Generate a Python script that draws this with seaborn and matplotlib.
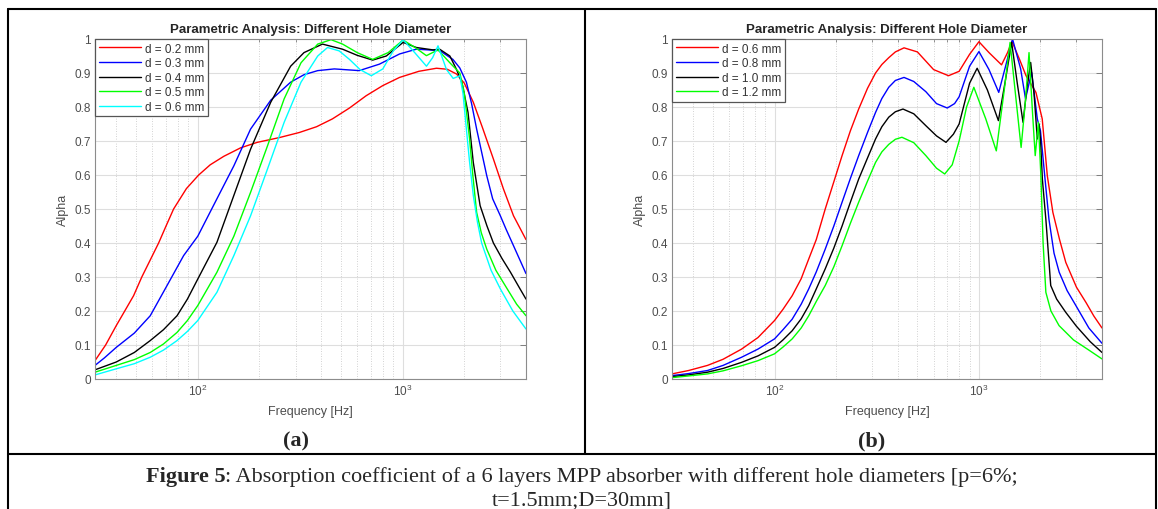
import matplotlib
matplotlib.use("Agg")
import numpy as np
import pandas as pd
import matplotlib.pyplot as plt
from matplotlib.lines import Line2D
from matplotlib.ticker import LogLocator, NullFormatter, MultipleLocator, FuncFormatter
import seaborn as sns

# --- panel (a): d = 0.2 ... 0.6 mm ---
freq_a_02 = [31.5, 35.5, 40, 44, 48.6, 53.3, 58.6, 64.4, 70, 76.2, 88, 101, 115, 134, 162, 195, 250,
             313, 380, 454, 550, 663, 800, 966, 1200, 1462, 1650, 1833, 2000, 2212, 2450, 2773,
             3100, 3476, 4000]
alpha_a_02 = [0.054, 0.1, 0.157, 0.2, 0.245, 0.30, 0.35, 0.40, 0.45, 0.50, 0.56, 0.60, 0.63, 0.655,
              0.68, 0.696, 0.71, 0.725, 0.742, 0.765, 0.797, 0.833, 0.863, 0.887, 0.905, 0.914,
              0.911, 0.897, 0.87, 0.814, 0.74, 0.647, 0.56, 0.48, 0.41]

freq_a_03 = [31.5, 35, 40, 49, 58.6, 70.8, 85.3, 100, 124, 150, 181, 227, 284, 330, 385, 464, 614,
             770, 966, 1166, 1515, 1759, 1900, 2047, 2170, 2297, 2573, 2750, 2998, 3200, 3476, 4000]
alpha_a_03 = [0.04, 0.062, 0.093, 0.135, 0.186, 0.275, 0.363, 0.42, 0.53, 0.627, 0.735, 0.82, 0.873,
              0.895, 0.907, 0.912, 0.907, 0.926, 0.956, 0.97, 0.966, 0.94, 0.915, 0.873, 0.81, 0.735,
              0.598, 0.53, 0.48, 0.44, 0.392, 0.31]

freq_a_04 = [31.5, 40, 49, 58.6, 68, 79.2, 89, 100, 124, 150, 181, 227, 284, 330, 406, 509, 600, 714,
             832, 1005, 1166, 1405, 1515, 1700, 1833, 1950, 2085, 2212, 2388, 2580, 2773, 3050, 3360,
             3700, 4000]
alpha_a_04 = [0.027, 0.05, 0.078, 0.113, 0.145, 0.186, 0.235, 0.294, 0.402, 0.54, 0.676, 0.814, 0.92,
              0.96, 0.985, 0.97, 0.952, 0.938, 0.95, 0.99, 0.975, 0.968, 0.97, 0.95, 0.91, 0.87,
              0.784, 0.637, 0.51, 0.45, 0.40, 0.355, 0.314, 0.27, 0.235]

freq_a_05 = [31.5, 40, 49, 58.6, 68, 79.2, 89, 100, 124, 150, 181, 219, 264, 319, 385, 447, 509, 600,
             714, 850, 1005, 1150, 1306, 1488, 1700, 1902, 2000, 2122, 2200, 2297, 2420, 2573, 2850,
             3239, 3600, 4000]
alpha_a_05 = [0.02, 0.04, 0.057, 0.078, 0.103, 0.137, 0.172, 0.216, 0.314, 0.42, 0.549, 0.686, 0.824,
              0.93, 0.985, 0.998, 0.985, 0.96, 0.94, 0.96, 0.997, 0.975, 0.951, 0.968, 0.93, 0.90,
              0.84, 0.706, 0.6, 0.49, 0.43, 0.382, 0.32, 0.265, 0.22, 0.186]

freq_a_06 = [31.5, 40, 49, 58.6, 68, 79.2, 89, 100, 124, 150, 181, 219, 264, 319, 385, 430, 490, 550,
             620, 703, 800, 900, 1005, 1145, 1307, 1400, 1488, 1637, 1765, 1902, 1970, 2047, 2120,
             2212, 2320, 2430, 2700, 2998, 3450, 4000]
alpha_a_06 = [0.012, 0.03, 0.045, 0.064, 0.085, 0.113, 0.14, 0.172, 0.255, 0.363, 0.48, 0.618, 0.755,
              0.873, 0.95, 0.975, 0.965, 0.94, 0.91, 0.892, 0.912, 0.965, 0.998, 0.96, 0.92, 0.945,
              0.98, 0.91, 0.884, 0.892, 0.84, 0.735, 0.64, 0.54, 0.46, 0.40, 0.32, 0.265, 0.2,
              0.147]

# --- panel (b): d = 0.6 ... 1.2 mm ---
freq_b_06 = [31.5, 38, 47, 56, 69, 83, 100, 110, 122, 135, 147, 160, 177, 195, 214, 235, 258, 285,
             312, 335, 362, 390, 430, 500, 600, 710, 800, 900, 1000, 1120, 1290, 1380, 1450, 1580,
             1700, 1900, 2040, 2160, 2300, 2480, 2660, 3000, 3340, 3650, 4000]
alpha_b_06 = [0.015, 0.025, 0.04, 0.058, 0.088, 0.122, 0.172, 0.205, 0.245, 0.295, 0.353, 0.41, 0.50,
              0.58, 0.657, 0.73, 0.794, 0.855, 0.90, 0.925, 0.945, 0.962, 0.974, 0.962, 0.91,
              0.892, 0.905, 0.955, 0.992, 0.96, 0.924, 0.96, 0.993, 0.94, 0.892, 0.843, 0.765,
              0.598, 0.49, 0.41, 0.343, 0.27, 0.225, 0.185, 0.15]

freq_b_08 = [31.5, 38, 47, 56, 69, 83, 100, 110, 122, 135, 147, 160, 177, 195, 214, 235, 258, 285,
             312, 335, 362, 390, 430, 480, 550, 620, 700, 760, 800, 900, 1000, 1120, 1250, 1350,
             1460, 1600, 1690, 1810, 1930, 2000, 2090, 2200, 2330, 2470, 2700, 2980, 3450, 4000]
alpha_b_08 = [0.01, 0.016, 0.025, 0.04, 0.064, 0.088, 0.118, 0.145, 0.176, 0.22, 0.265, 0.315, 0.382,
              0.45, 0.52, 0.59, 0.657, 0.725, 0.784, 0.825, 0.858, 0.878, 0.887, 0.875, 0.845,
              0.81, 0.797, 0.81, 0.83, 0.92, 0.963, 0.91, 0.843, 0.92, 1.0, 0.912, 0.824, 0.902,
              0.765, 0.73, 0.608, 0.47, 0.37, 0.314, 0.26, 0.216, 0.15, 0.105]

freq_b_10 = [31.5, 38, 47, 56, 69, 83, 100, 110, 122, 135, 147, 160, 177, 195, 214, 235, 258, 285,
             312, 335, 362, 390, 425, 480, 550, 620, 690, 750, 800, 900, 980, 1100, 1245, 1340,
             1445, 1540, 1643, 1720, 1791, 1860, 1930, 1967, 2000, 2043, 2125, 2245, 2400, 2660,
             3000, 3500, 4000]
alpha_b_10 = [0.007, 0.012, 0.02, 0.031, 0.049, 0.068, 0.093, 0.115, 0.142, 0.177, 0.216, 0.265,
              0.324, 0.385, 0.45, 0.52, 0.588, 0.65, 0.706, 0.742, 0.77, 0.786, 0.794, 0.78,
              0.745, 0.715, 0.696, 0.72, 0.75, 0.87, 0.914, 0.85, 0.76, 0.87, 0.99, 0.87, 0.755,
              0.86, 0.931, 0.84, 0.706, 0.75, 0.706, 0.588, 0.47, 0.275, 0.235, 0.196, 0.155,
              0.11, 0.078]

freq_b_12 = [31.5, 38, 47, 56, 69, 83, 100, 110, 122, 135, 147, 160, 177, 195, 214, 235, 258, 285,
             312, 335, 362, 390, 420, 480, 550, 620, 680, 740, 800, 870, 944, 1080, 1216, 1330,
             1420, 1520, 1608, 1690, 1758, 1830, 1885, 1954, 2009, 2060, 2125, 2250, 2466, 2900,
             3450, 4000]
alpha_b_12 = [0.004, 0.009, 0.015, 0.024, 0.039, 0.054, 0.074, 0.094, 0.118, 0.15, 0.186, 0.228,
              0.275, 0.33, 0.392, 0.458, 0.52, 0.582, 0.637, 0.668, 0.69, 0.705, 0.711, 0.695,
              0.657, 0.62, 0.603, 0.63, 0.70, 0.80, 0.858, 0.765, 0.671, 0.85, 0.99, 0.82, 0.681,
              0.82, 0.96, 0.78, 0.657, 0.755, 0.598, 0.40, 0.255, 0.2, 0.157, 0.115, 0.085, 0.059]

labels_a = ['d = 0.2 mm', 'd = 0.3 mm', 'd = 0.4 mm', 'd = 0.5 mm', 'd = 0.6 mm']
colors_a = ['#ff0000', '#0000ff', '#000000', '#00ff00', '#00ffff']
labels_b = ['d = 0.6 mm', 'd = 0.8 mm', 'd = 1.0 mm', 'd = 1.2 mm']
colors_b = ['#ff0000', '#0000ff', '#000000', '#00ff00']

series_a = [(freq_a_02, alpha_a_02), (freq_a_03, alpha_a_03), (freq_a_04, alpha_a_04),
            (freq_a_05, alpha_a_05), (freq_a_06, alpha_a_06)]
series_b = [(freq_b_06, alpha_b_06), (freq_b_08, alpha_b_08), (freq_b_10, alpha_b_10),
            (freq_b_12, alpha_b_12)]


def to_frame(series, labels):
    parts = []
    for (f, a), lab in zip(series, labels):
        parts.append(pd.DataFrame({'freq': f, 'alpha': a, 'd': lab}))
    return pd.concat(parts, ignore_index=True)


df_a = to_frame(series_a, labels_a)
df_b = to_frame(series_b, labels_b)

sns.set_theme(style="white")
plt.rcParams['font.family'] = ['Liberation Sans', 'DejaVu Sans']

W, H = 1158, 510
fig = plt.figure(figsize=(W / 100, H / 100), dpi=100)
fig.patch.set_facecolor('white')
ax_a = fig.add_axes([95 / W, 1 - 380 / H, 431 / W, 340 / H])
ax_b = fig.add_axes([672 / W, 1 - 380 / H, 430 / W, 340 / H])

grey = '#4d4d4d'


def style_axes(ax, df, labels, colors):
    sns.lineplot(data=df, x='freq', y='alpha', hue='d', hue_order=labels,
                 palette=dict(zip(labels, colors)), estimator=None, sort=True,
                 linewidth=1.0, ax=ax)
    ax.set_xscale('log')
    ax.set_xlim(31.5, 4000)
    ax.set_ylim(0, 1)
    ax.yaxis.set_major_locator(MultipleLocator(0.1))
    ax.yaxis.set_major_formatter(FuncFormatter(lambda v, p: f"{round(v, 2):g}"))
    ax.xaxis.set_major_locator(LogLocator(base=10))
    ax.xaxis.set_minor_locator(LogLocator(base=10, subs=np.arange(2, 10)))
    ax.xaxis.set_minor_formatter(NullFormatter())
    ax.grid(True, which='major', color='#dedede', lw=0.8)
    ax.grid(True, which='minor', axis='x', color='#c4c4c4', lw=0.6, ls=(0, (1, 2)))
    ax.set_axisbelow(True)
    ax.tick_params(which='both', direction='in', top=True, right=True,
                   color='#6e6e6e', labelcolor=grey, labelsize=8.5, pad=3)
    ax.tick_params(which='major', length=4, width=0.6)
    ax.tick_params(which='minor', length=2, width=0.5)
    for s in ax.spines.values():
        s.set_color('#8c8c8c')
        s.set_linewidth(0.8)
    ax.set_xlabel('Frequency [Hz]', fontsize=9, color=grey, labelpad=5)
    ax.set_ylabel('Alpha', fontsize=9, color=grey, labelpad=4)
    ax.set_title('Parametric Analysis: Different Hole Diameter', fontsize=9.5,
                 fontweight='bold', pad=5)
    handles, labs = ax.get_legend_handles_labels()
    leg = ax.legend(handles, labs, loc='upper left', borderaxespad=0, fontsize=8.5,
                    frameon=True, fancybox=False, framealpha=1, edgecolor='#555555',
                    handlelength=3.6, handletextpad=0.3, borderpad=0.3, labelspacing=0.22)
    leg.get_frame().set_linewidth(0.9)
    for t in leg.get_texts():
        t.set_color('#333333')


style_axes(ax_a, df_a, labels_a, colors_a)
style_axes(ax_b, df_b, labels_b, colors_b)


def hline(x0, x1, y):
    fig.add_artist(Line2D([x0 / W, x1 / W], [1 - y / H, 1 - y / H], color='black', lw=1.5))


def vline(x, y0, y1):
    fig.add_artist(Line2D([x / W, x / W], [1 - y0 / H, 1 - y1 / H], color='black', lw=1.5))


# table borders around the figure
hline(8, 1156, 10)
hline(8, 1156, 455)
vline(8, 10, 512)
vline(1156, 10, 512)
vline(585, 10, 455)

serif = ['Liberation Serif', 'DejaVu Serif']
fig.text(296 / W, 1 - 441 / H, '(a)', fontsize=16, fontweight='bold', family=serif,
         ha='center', va='center')
fig.text(872 / W, 1 - 441 / H, '(b)', fontsize=16, fontweight='bold', family=serif,
         ha='center', va='center')

t1 = fig.text(0, 1 - 482 / H, 'Figure 5', fontsize=16, fontweight='bold', family=serif,
              va='baseline')
t2 = fig.text(0, 1 - 482 / H, ': Absorption coefficient of a 6 layers MPP absorber with '
              'different hole diameters [p=6%;', fontsize=16, family=serif, va='baseline')
fig.text(582 / W, 1 - 505 / H, 't=1.5mm;D=30mm]', fontsize=16, family=serif,
         ha='center', va='baseline')

fig.canvas.draw()
r = fig.canvas.get_renderer()
w1 = t1.get_window_extent(r).width
w2 = t2.get_window_extent(r).width
x0 = 582 - (w1 + w2) / 2
t1.set_x(x0 / W)
t2.set_x((x0 + w1) / W)

fig.savefig('out.png', dpi=100)
